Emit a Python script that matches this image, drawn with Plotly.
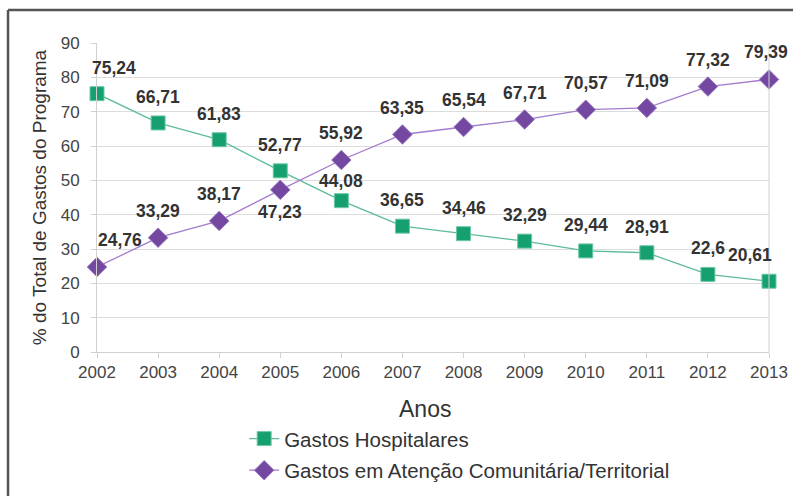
import plotly.graph_objects as go

anos = [2002, 2003, 2004, 2005, 2006, 2007, 2008, 2009, 2010, 2011, 2012, 2013]
hospitalares = [75.24, 66.71, 61.83, 52.77, 44.08, 36.65, 34.46, 32.29, 29.44, 28.91, 22.6, 20.61]
comunitaria = [24.76, 33.29, 38.17, 47.23, 55.92, 63.35, 65.54, 67.71, 70.57, 71.09, 77.32, 79.39]

VERDE = "#16a070"
VERDE_LINHA = "#5dbb97"
ROXO = "#7448a0"
ROXO_LINHA = "#a27ccc"
TEXTO = "#333333"
FONTE = "Liberation Sans, Arial, sans-serif"


def fmt(v):
    return f"{v:g}".replace(".", ",")


fig = go.Figure()
fig.add_trace(go.Scatter(
    x=anos, y=hospitalares, mode="lines+markers", name="Gastos Hospitalares",
    legendgroup="a",
    line=dict(color=VERDE_LINHA, width=1.3),
    marker=dict(symbol="square", size=14, color=VERDE,
                line=dict(color="#6cc9a3", width=1)),
    cliponaxis=False,
))
fig.add_trace(go.Scatter(
    x=anos, y=comunitaria, mode="lines+markers",
    name="Gastos em Atenção Comunitária/Territorial", legendgroup="b",
    line=dict(color=ROXO_LINHA, width=1.3),
    marker=dict(symbol="diamond", size=15, color=ROXO,
                line=dict(color="#9b78c2", width=1)),
    cliponaxis=False,
))

# rótulos dos valores
for i, (ano, v) in enumerate(zip(anos, hospitalares)):
    dx, dy = 0, 26
    if i == 0:
        dx = 17
    elif i == 4:
        dy = 20
    elif i == len(anos) - 1:
        dx = -19
    fig.add_annotation(x=ano, y=v, text=f"<b>{fmt(v)}</b>", showarrow=False,
                       xshift=dx, yshift=dy,
                       font=dict(size=17.5, color=TEXTO, family=FONTE))

for i, (ano, v) in enumerate(zip(anos, comunitaria)):
    dx, dy = 0, 27
    if i == 0:
        dx = 23
    elif i == 3:
        dy = -22
    elif i == len(anos) - 1:
        dx = -3
    fig.add_annotation(x=ano, y=v, text=f"<b>{fmt(v)}</b>", showarrow=False,
                       xshift=dx, yshift=dy,
                       font=dict(size=17.5, color=TEXTO, family=FONTE))

fig.add_annotation(x=0.488, y=-0.1835, xref="paper", yref="paper", text="Anos",
                   showarrow=False, yanchor="middle",
                   font=dict(size=23, color=TEXTO, family=FONTE))

# moldura externa
fig.add_shape(type="line", xref="paper", yref="paper",
              x0=-0.1324, x1=-0.1324, y0=1.1068, y1=-0.47,
              line=dict(color="#555555", width=2.5))
fig.add_shape(type="line", xref="paper", yref="paper",
              x0=-0.1324, x1=1.04, y0=1.1068, y1=1.1068,
              line=dict(color="#555555", width=2.5))

fig.update_layout(
    width=793, height=496,
    paper_bgcolor="white", plot_bgcolor="white",
    font=dict(family=FONTE, color=TEXTO),
    margin=dict(l=97, r=24, t=43, b=144, autoexpand=False),
    showlegend=True,
    legend=dict(x=0.219, y=-0.216, xanchor="left", yanchor="top",
                font=dict(size=20.5, color=TEXTO, family=FONTE),
                tracegroupgap=2, bgcolor="rgba(0,0,0,0)"),
    xaxis=dict(range=[2002, 2013], tickmode="array", tickvals=anos,
               showgrid=False, showline=True, linecolor="#d0d0d0",
               mirror=False, ticks="outside", ticklen=5, tickcolor="#d0d0d0",
               tickfont=dict(size=17, color="#444444"), zeroline=False,
               automargin=False),
    yaxis=dict(range=[0, 90], dtick=10, showgrid=True, gridcolor="#dcdcdc",
               showline=True, linecolor="#d0d0d0", ticks="outside", ticklen=5,
               tickcolor="#d0d0d0", tickfont=dict(size=17, color="#444444"),
               ticklabelstandoff=8, zeroline=False, automargin=False,
               title=dict(text="% do Total de Gastos do Programa",
                          font=dict(size=19, color=TEXTO), standoff=9)),
)
# borda direita da área do gráfico
fig.add_shape(type="line", xref="paper", yref="paper", x0=1, x1=1, y0=0, y1=1,
              line=dict(color="#d0d0d0", width=1))

# sem margem do body, para a figura ocupar a janela toda
fig.write_html("out.html", config={"displayModeBar": False},
               post_script="document.body.style.margin='0';")
